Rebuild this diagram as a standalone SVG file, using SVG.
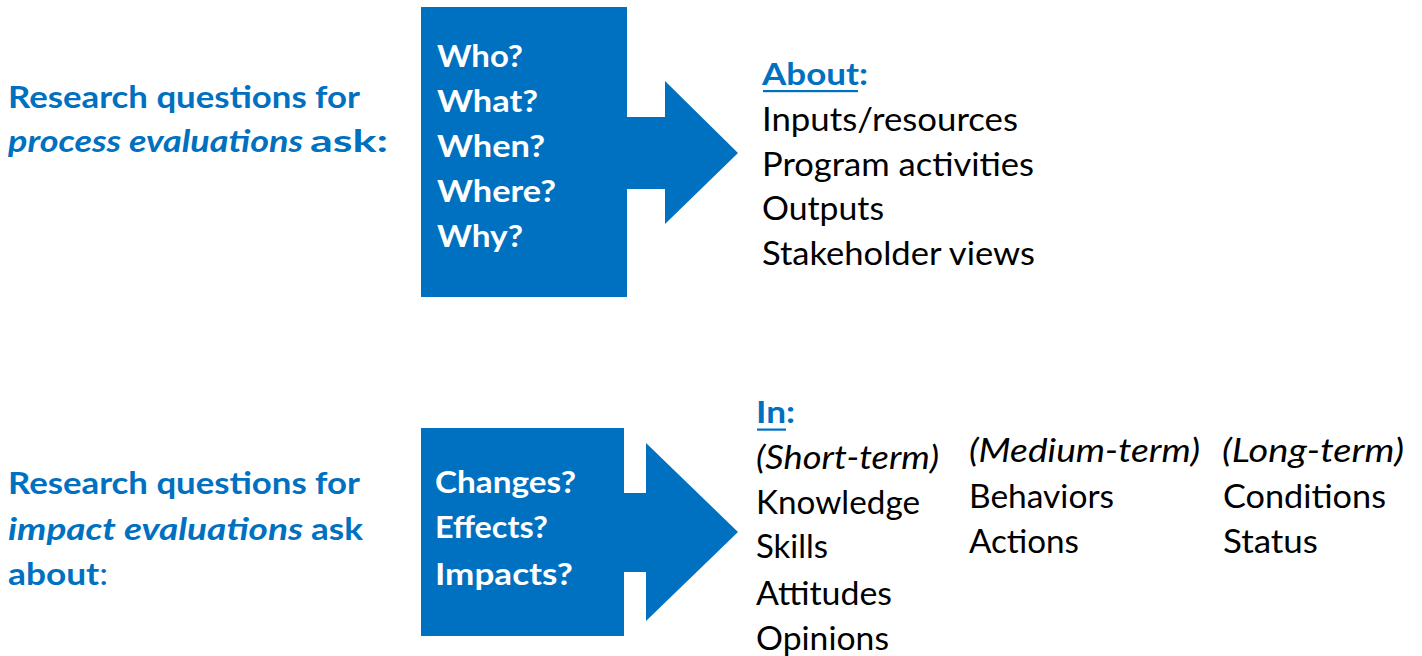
<svg xmlns="http://www.w3.org/2000/svg" width="1422" height="656" viewBox="0 0 1422 656">
<style>
text{font-family:Lato,"Open Sans","Liberation Sans",sans-serif}
.lbl{fill:#0070C0;font-weight:bold;font-size:30px}
.it{font-style:italic}
.box{fill:#0070C0}
.bt{fill:#fff;font-weight:bold;font-size:31px}
.hd{fill:#0070C0;font-weight:bold;font-size:31px}
.tx{fill:#000;font-size:33px}
.ul{fill:#0070C0}
</style>
<rect width="1422" height="656" fill="#fff"/>
<g id="label-process">
<text class="lbl" x="8" y="108" textLength="352" lengthAdjust="spacingAndGlyphs">Research questions for</text>
<text class="lbl it" x="8" y="152" textLength="295" lengthAdjust="spacingAndGlyphs">process evaluations</text>
<text class="lbl" x="310" y="152" textLength="78" lengthAdjust="spacingAndGlyphs">ask:</text>
</g>
<g id="label-impact">
<text class="lbl" x="8" y="494" textLength="352" lengthAdjust="spacingAndGlyphs">Research questions for</text>
<text class="lbl it" x="8" y="540" textLength="295" lengthAdjust="spacingAndGlyphs">impact evaluations</text>
<text class="lbl" x="311" y="540" textLength="52" lengthAdjust="spacingAndGlyphs">ask</text>
<text class="lbl" x="8" y="585" textLength="100" lengthAdjust="spacingAndGlyphs">about<tspan font-weight="normal">:</tspan></text>
</g>
<g id="arrow-process">
<path class="box" d="M421,7 H627 V117 H665 V81 L738,153 L665,224 V189 H627 V297 H421 Z"/>
<text class="bt" x="437" y="67" textLength="86" lengthAdjust="spacingAndGlyphs">Who?</text>
<text class="bt" x="437" y="112" textLength="101" lengthAdjust="spacingAndGlyphs">What?</text>
<text class="bt" x="437" y="157" textLength="108" lengthAdjust="spacingAndGlyphs">When?</text>
<text class="bt" x="437" y="202" textLength="119" lengthAdjust="spacingAndGlyphs">Where?</text>
<text class="bt" x="437" y="247" textLength="86" lengthAdjust="spacingAndGlyphs">Why?</text>
</g>
<g id="arrow-impact">
<path class="box" d="M421,428 H624 V493 H646 V443 L738,532 L646,621 V572 H624 V636 H421 Z"/>
<text class="bt" x="435" y="493" textLength="141" lengthAdjust="spacingAndGlyphs">Changes?</text>
<text class="bt" x="435" y="538" textLength="113" lengthAdjust="spacingAndGlyphs">Effects?</text>
<text class="bt" x="435" y="585" textLength="138" lengthAdjust="spacingAndGlyphs">Impacts?</text>
</g>
<g id="list-about">
<text class="hd" x="762" y="85" textLength="106" lengthAdjust="spacingAndGlyphs">About:</text>
<rect class="ul" x="763" y="90" width="95" height="2.2"/>
<text class="tx" x="762" y="131" textLength="256" lengthAdjust="spacingAndGlyphs">Inputs/resources</text>
<text class="tx" x="762" y="176" textLength="272" lengthAdjust="spacingAndGlyphs">Program activities</text>
<text class="tx" x="762" y="220" textLength="122" lengthAdjust="spacingAndGlyphs">Outputs</text>
<text class="tx" x="762" y="265" textLength="273" lengthAdjust="spacingAndGlyphs">Stakeholder views</text>
</g>
<g id="list-in">
<text class="hd" x="756" y="423" textLength="39" lengthAdjust="spacingAndGlyphs">In:</text>
<rect class="ul" x="757" y="428.5" width="29" height="2.2"/>
</g>
<g id="col-short">
<text class="tx it" x="756" y="469" textLength="183" lengthAdjust="spacingAndGlyphs">(Short-term)</text>
<text class="tx" x="756" y="514" textLength="164" lengthAdjust="spacingAndGlyphs">Knowledge</text>
<text class="tx" x="756" y="558" textLength="72" lengthAdjust="spacingAndGlyphs">Skills</text>
<text class="tx" x="756" y="605" textLength="136" lengthAdjust="spacingAndGlyphs">Attitudes</text>
<text class="tx" x="756" y="650" textLength="133" lengthAdjust="spacingAndGlyphs">Opinions</text>
</g>
<g id="col-medium">
<text class="tx it" x="969" y="462" textLength="231" lengthAdjust="spacingAndGlyphs">(Medium-term)</text>
<text class="tx" x="969" y="508" textLength="145" lengthAdjust="spacingAndGlyphs">Behaviors</text>
<text class="tx" x="969" y="553" textLength="110" lengthAdjust="spacingAndGlyphs">Actions</text>
</g>
<g id="col-long">
<text class="tx it" x="1222" y="462" textLength="182" lengthAdjust="spacingAndGlyphs">(Long-term)</text>
<text class="tx" x="1223" y="508" textLength="163" lengthAdjust="spacingAndGlyphs">Conditions</text>
<text class="tx" x="1223" y="553" textLength="95" lengthAdjust="spacingAndGlyphs">Status</text>
</g>
<g id="connectors"/>
</svg>
